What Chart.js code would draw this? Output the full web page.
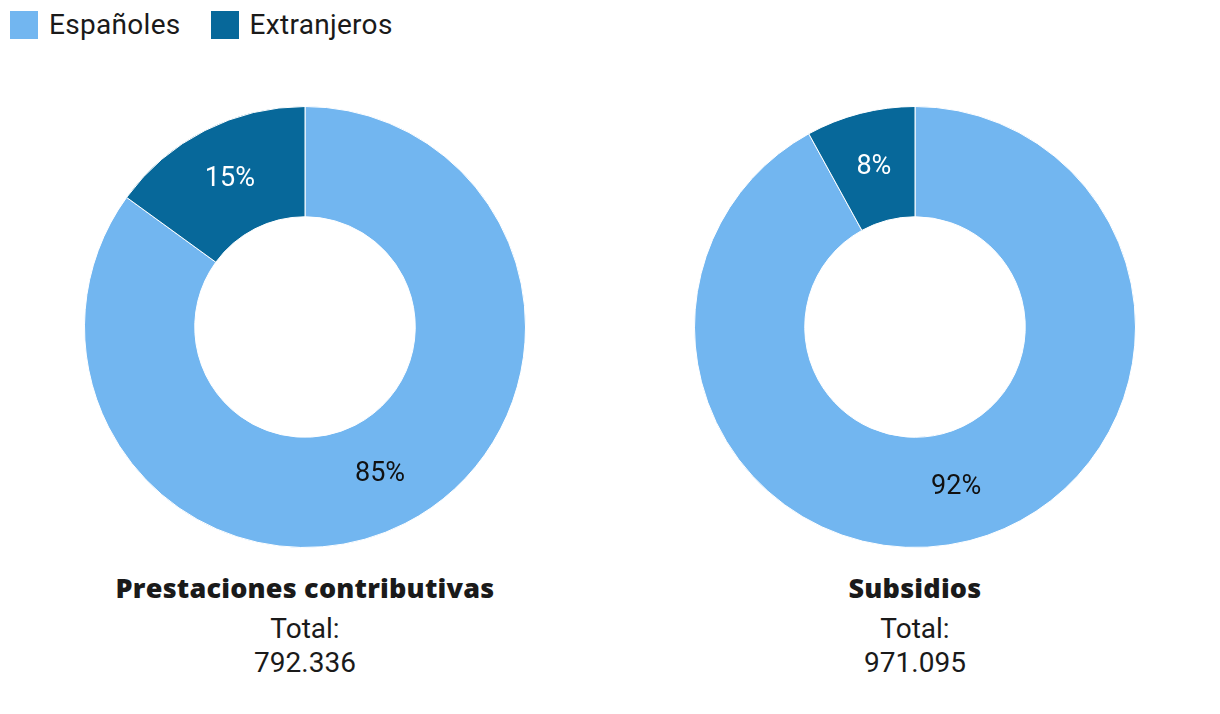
<!DOCTYPE html>
<html>
<head>
<meta charset="utf-8">
<script src="https://cdn.jsdelivr.net/npm/chart.js@4"></script>
<style>
  body { margin: 0; background: #fff; font-family: Roboto, "Liberation Sans", sans-serif; color: #1a1a1a; }
  #legend { position: absolute; left: 10px; top: 11px; display: flex; font-size: 28px; line-height: 28px; letter-spacing: 0.3px; }
  .item { display: flex; align-items: center; margin-right: 30px; }
  .sw { width: 28px; height: 28px; margin-right: 11px; }
  .box { position: absolute; top: 106px; width: 442px; height: 442px; }
  .cap { position: absolute; top: 570px; width: 600px; text-align: center; font-size: 28px; line-height: 34px; }
  .cap b { font-family: "Open Sans", sans-serif; font-weight: 800; font-size: 27px; letter-spacing: 0.2px; display: block; margin-bottom: 6px; line-height: 36px; }
</style>
</head>
<body>
<div id="legend"></div>
<div class="box" style="left:84px"><canvas id="c1"></canvas></div>
<div class="box" style="left:694px"><canvas id="c2"></canvas></div>
<div class="cap" style="left:5px"><b id="t1"></b><span id="s1"></span></div>
<div class="cap" style="left:615px"><b id="t2"></b><span id="s2"></span></div>
<script>
const categorias = ['Españoles', 'Extranjeros'];
const colores = ['#72b6f0', '#07689a'];
const coloresTexto = ['#111111', '#ffffff'];

const titulos = ['Prestaciones contributivas', 'Subsidios'];
const totales = ['792.336', '971.095'];
const prestaciones = [85, 15];
const subsidios = [92, 8];

// leyenda
const legend = document.getElementById('legend');
categorias.forEach((cat, i) => {
    const div = document.createElement('div');
    div.className = 'item';
    div.innerHTML = `<span class="sw" style="background:${colores[i]}"></span><span>${cat}</span>`;
    legend.appendChild(div);
});

// etiquetas de porcentaje en cada sector
const etiquetas = {
    id: 'etiquetas',
    afterDatasetsDraw(chart) {
        const ctx = chart.ctx;
        const meta = chart.getDatasetMeta(0);
        ctx.save();
        ctx.font = '27px Roboto, "Liberation Sans", sans-serif';
        ctx.textAlign = 'center';
        ctx.textBaseline = 'middle';
        meta.data.forEach((arc, i) => {
            const p = arc.tooltipPosition();
            ctx.fillStyle = coloresTexto[i];
            ctx.fillText(chart.data.datasets[0].data[i] + '%', p.x, p.y);
        });
        ctx.restore();
    }
};

function crearDona(id, valores) {
    return new Chart(document.getElementById(id), {
        type: 'doughnut',
        data: {
            labels: categorias,
            datasets: [{
                data: valores,
                backgroundColor: colores,
                borderColor: '#fff',
                borderWidth: 1,
            }]
        },
        options: {
            responsive: true,
            maintainAspectRatio: false,
            animation: false,
            cutout: '50%',
            plugins: {
                legend: { display: false },
                tooltip: { enabled: false }
            }
        },
        plugins: [etiquetas]
    });
}

crearDona('c1', prestaciones);
crearDona('c2', subsidios);

document.getElementById('t1').textContent = titulos[0];
document.getElementById('t2').textContent = titulos[1];
document.getElementById('s1').innerHTML = 'Total:<br>' + totales[0];
document.getElementById('s2').innerHTML = 'Total:<br>' + totales[1];
</script>
</body>
</html>
